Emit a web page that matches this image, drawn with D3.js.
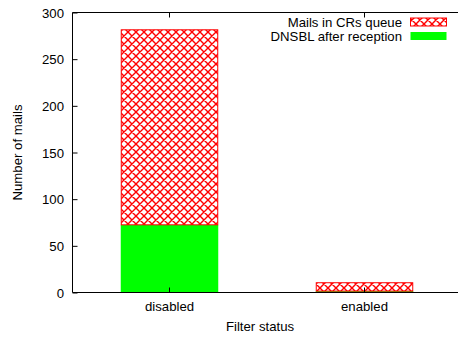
<!DOCTYPE html>
<html>
<head>
<meta charset="utf-8">
<script src="https://cdn.jsdelivr.net/npm/d3@7"></script>
<style>
  body { margin: 0; background: #fff; }
  text { font-family: "Liberation Sans", Arial, sans-serif; font-size: 13.2px; fill: #000; }
</style>
</head>
<body>
<script>
// data
const categories = ['disabled', 'enabled'];
const dnsbl = [72, 1];          // DNSBL after reception (bottom)
const queue = [210, 10];        // Mails in CRs queue (stacked on top)
const yTicks = [0, 50, 100, 150, 200, 250, 300];
const seriesNames = ['Mails in CRs queue', 'DNSBL after reception'];

const width = 458, height = 338;
const margin = { top: 12, right: -4, bottom: 45, left: 72 };

const svg = d3.select('body')
  .append('svg')
  .attr('width', width)
  .attr('height', height);

// hatch pattern like gnuplot's crosshatch fill
const defs = svg.append('defs');
const pat = defs.append('pattern')
  .attr('id', 'hatch')
  .attr('patternUnits', 'userSpaceOnUse')
  .attr('width', 8)
  .attr('height', 8);
pat.append('rect').attr('width', 8).attr('height', 8).attr('fill', '#fff');
pat.append('path')
  .attr('d', 'M0,0 L8,8 M8,0 L0,8 M-1,7 L1,9 M7,-1 L9,1 M-1,1 L1,-1 M7,9 L9,7')
  .attr('stroke', '#ff0000')
  .attr('stroke-width', 1.4);

const x = d3.scaleBand()
  .domain(categories)
  .range([margin.left, width - margin.right])
  .paddingInner(0.5)
  .paddingOuter(0.25);

const y = d3.scaleLinear()
  .domain([0, 300])
  .range([height - margin.bottom - 0.5, margin.top + 0.5]);

// bars
const stacked = categories.map((c, i) => ({ cat: c, a: dnsbl[i], b: queue[i] }));

svg.selectAll('.green')
  .data(stacked)
  .enter().append('rect')
  .attr('x', d => x(d.cat))
  .attr('width', x.bandwidth())
  .attr('y', d => y(d.a) - 0.5)
  .attr('height', d => y(0) - y(d.a) + 0.5)
  .attr('fill', '#00ff00');

svg.selectAll('.red')
  .data(stacked)
  .enter().append('rect')
  .attr('x', d => x(d.cat) + 0.5)
  .attr('width', x.bandwidth() - 1)
  .attr('y', d => y(d.a + d.b) + 0.5)
  .attr('height', d => y(d.a) - y(d.a + d.b) - 1)
  .attr('fill', 'url(#hatch)')
  .attr('stroke', '#ff0000')
  .attr('stroke-width', 1);

// frame (left, bottom, top)
const x0 = margin.left + 0.5, x1 = width + 5;
svg.append('path')
  .attr('d', `M${x1},${y(300)} H${x0} V${y(0)} H${x1}`)
  .attr('fill', 'none')
  .attr('stroke', '#000')
  .attr('stroke-width', 1);

// y axis
const yaxis = svg.append('g')
  .attr('transform', `translate(${x0}, 0)`)
  .call(d3.axisRight(y).tickValues(yTicks).tickSize(5).tickFormat(''));
yaxis.select('.domain').remove();
svg.append('g').selectAll('text')
  .data(yTicks)
  .enter().append('text')
  .attr('x', 64)
  .attr('y', d => y(d) + 5)
  .attr('text-anchor', 'end')
  .text(d => d);

// x axis ticks bottom and mirrored top
const xc = d => x(d) + x.bandwidth() / 2;
svg.append('g')
  .attr('transform', `translate(0, ${y(0)})`)
  .call(d3.axisTop(x).tickSize(5).tickFormat(''))
  .select('.domain').remove();
svg.append('g')
  .attr('transform', `translate(0, ${y(300)})`)
  .call(d3.axisBottom(x).tickSize(5).tickFormat(''))
  .select('.domain').remove();
svg.append('g').selectAll('text')
  .data(categories)
  .enter().append('text')
  .attr('x', d => xc(d))
  .attr('y', 311)
  .attr('text-anchor', 'middle')
  .text(d => d);

// axis labels
svg.append('text')
  .text('Filter status')
  .attr('x', 260)
  .attr('y', 331)
  .attr('text-anchor', 'middle');

svg.append('text')
  .text('Number of mails')
  .attr('transform', `translate(22, ${(y(0) + y(300)) / 2}) rotate(-90)`)
  .attr('text-anchor', 'middle');

// legend
const legend = svg.append('g');
const lg = [
  { name: seriesNames[0], fill: 'url(#hatch)', stroke: '#ff0000', y: 22.5 },
  { name: seriesNames[1], fill: '#00ff00', stroke: 'none', y: 36.5 }
];
lg.forEach(d => {
  legend.append('text')
    .attr('x', 402)
    .attr('y', d.y + 4.5)
    .attr('text-anchor', 'end')
    .text(d.name);
  legend.append('rect')
    .attr('x', 410.5)
    .attr('y', d.y - 4.5)
    .attr('width', 36)
    .attr('height', 8)
    .attr('fill', d.fill)
    .attr('stroke', d.stroke);
});
</script>
</body>
</html>
